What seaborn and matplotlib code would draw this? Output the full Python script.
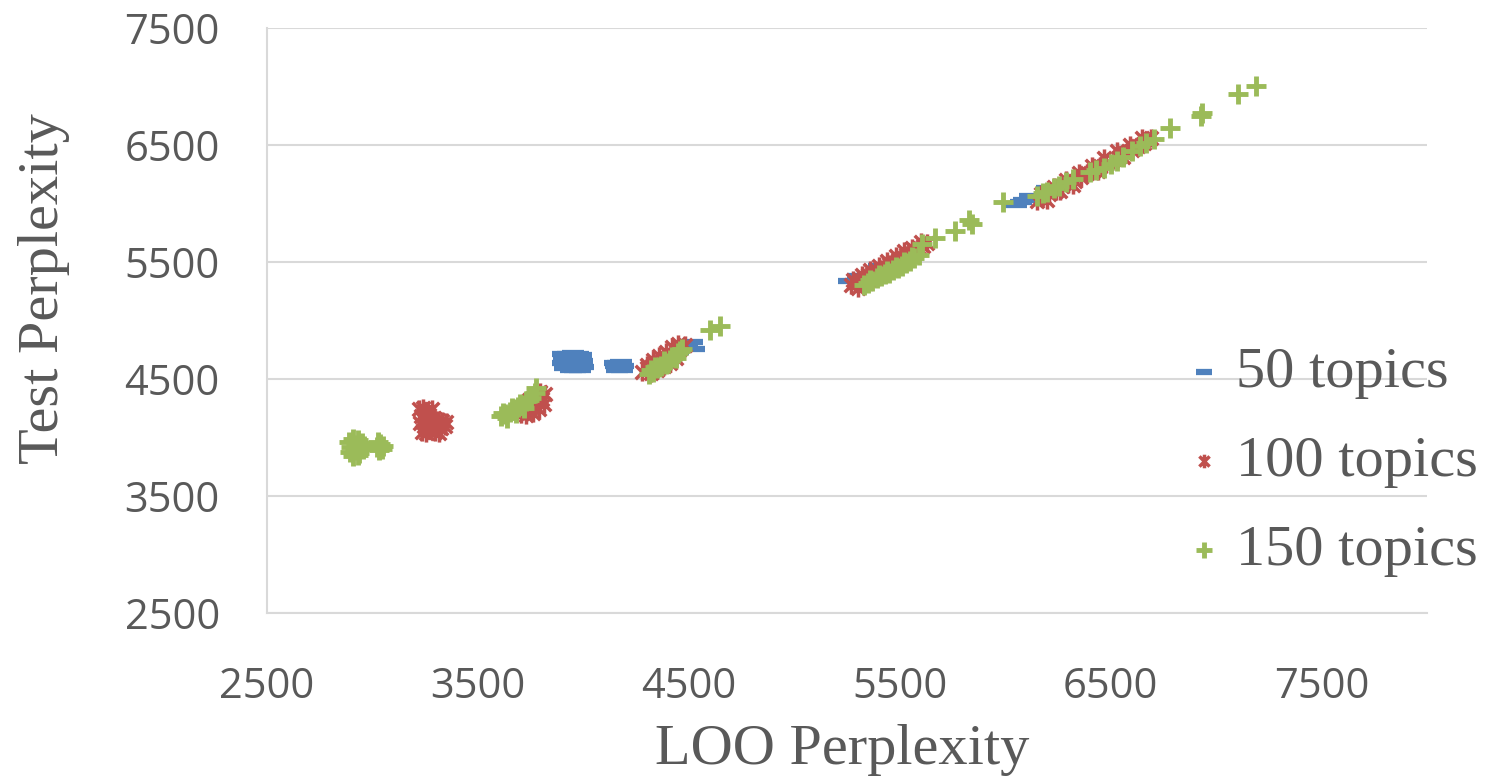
import numpy as np
import matplotlib
matplotlib.use("Agg")
import matplotlib.pyplot as plt
from matplotlib.path import Path
import pandas as pd
import seaborn as sns

# 50 topics
x50 = [3905, 3925, 3950, 3975, 3990, 3910, 3930, 3955, 3980, 3995, 3905, 3930, 3950, 3970, 3990,
       3915, 3940, 3960, 3985, 4000,
       4150, 4165, 4180, 4155, 4175, 4190, 4160, 4185,
       4350, 4400, 4450, 4490, 4515, 4525,
       5260, 5300, 5400,
       6050, 6075, 6090, 6120, 6200]
y50 = [4715, 4712, 4718, 4710, 4705, 4680, 4672, 4668, 4660, 4655, 4640, 4630, 4625, 4620, 4615,
       4590, 4580, 4575, 4580, 4600,
       4640, 4635, 4645, 4610, 4600, 4615, 4580, 4575,
       4620, 4680, 4730, 4770, 4815, 4760,
       5340, 5380, 5470,
       5990, 6010, 6030, 6060, 6130]

# 100 topics
x100 = [3220, 3240, 3260, 3280, 3230, 3250, 3270, 3290, 3310, 3330, 3350, 3225, 3245, 3265, 3285,
        3305, 3325, 3345, 3235, 3255, 3275, 3295, 3315, 3240, 3270, 3300,
        3705, 3725, 3745, 3765, 3785, 3805, 3820, 3740, 3770, 3795, 3815, 3730, 3760, 3790,
        4280, 4300, 4320, 4340, 4360, 4380, 4400, 4420, 4440, 4460, 4480, 4300, 4330, 4360, 4390,
        4420, 4450, 4320, 4350, 4380, 4410, 4440,
        5270, 5290, 5310, 5330, 5350, 5370, 5390, 5410, 5430, 5450, 5470, 5490, 5510, 5530, 5550,
        5570, 5590, 5610, 5630, 5280, 5320, 5360, 5400, 5440, 5480, 5520, 5560, 5600, 5300, 5340,
        5380, 5420,
        6150, 6180, 6210, 6240, 6270, 6300, 6330, 6360, 6390, 6420, 6450, 6480, 6510, 6540, 6570,
        6600, 6630, 6660, 6690, 6170, 6230, 6290, 6350, 6410, 6470, 6530, 6590, 6650, 6200, 6260,
        6320, 6440, 6560]
y100 = [4240, 4250, 4230, 4245, 4180, 4200, 4190, 4170, 4150, 4145, 4130, 4120, 4100, 4110, 4090,
        4100, 4080, 4095, 4050, 4040, 4060, 4045, 4035, 4160, 4140, 4120,
        4200, 4230, 4250, 4270, 4300, 4330, 4370, 4320, 4360, 4390, 4290, 4190, 4210, 4240,
        4560, 4590, 4600, 4630, 4650, 4670, 4690, 4710, 4740, 4760, 4790, 4620, 4660, 4700, 4730,
        4770, 4800, 4550, 4580, 4610, 4640, 4680,
        5300, 5330, 5350, 5360, 5390, 5400, 5420, 5440, 5460, 5480, 5500, 5520, 5540, 5560, 5580,
        5600, 5620, 5640, 5660, 5350, 5390, 5430, 5470, 5510, 5550, 5590, 5620, 5670, 5280, 5320,
        5360, 5400,
        6020, 6060, 6080, 6110, 6150, 6170, 6190, 6230, 6260, 6290, 6320, 6340, 6370, 6400, 6430,
        6460, 6490, 6520, 6560, 6080, 6140, 6200, 6260, 6320, 6390, 6450, 6500, 6560, 6030, 6110,
        6160, 6280, 6400]

# 150 topics
x150 = [2890, 2910, 2930, 2950, 2900, 2920, 2940, 2960, 2895, 2915, 2935, 2955, 2910, 2930,
        3020, 3035, 3050, 3030, 3045, 3025,
        3610, 3630, 3650, 3670, 3690, 3710, 3730, 3750, 3770, 3620, 3660, 3700, 3740, 3775, 3640,
        3680, 3720,
        4310, 4330, 4350, 4370, 4390, 4410, 4430, 4450, 4470, 4340, 4380, 4420, 4460, 4320, 4360,
        4400, 4440, 4600, 4650,
        5330, 5350, 5370, 5390, 5410, 5430, 5450, 5470, 5490, 5510, 5530, 5550, 5570, 5590, 5360,
        5400, 5440, 5480, 5520, 5560, 5605, 5667, 5763, 5844, 5830,
        5990, 6150, 6180, 6200, 6230, 6256, 6290, 6323, 6400, 6430, 6467, 6500, 6529, 6560, 6600,
        6639, 6670, 6706, 6782, 6935, 6930, 7103, 7189]
y150 = [3960, 3990, 3975, 3950, 3920, 3935, 3910, 3925, 3880, 3890, 3870, 3900, 3840, 3850,
        3920, 3945, 3930, 3890, 3905, 3960,
        4180, 4200, 4220, 4240, 4260, 4280, 4310, 4340, 4380, 4210, 4250, 4290, 4320, 4420, 4170,
        4210, 4250,
        4540, 4560, 4590, 4610, 4630, 4660, 4690, 4720, 4760, 4600, 4650, 4690, 4740, 4580, 4600,
        4640, 4680, 4920, 4950,
        5300, 5320, 5340, 5360, 5380, 5400, 5410, 5430, 5450, 5470, 5490, 5510, 5530, 5560, 5350,
        5390, 5420, 5460, 5500, 5540, 5654, 5705, 5765, 5825, 5860,
        6010, 6060, 6090, 6100, 6130, 6150, 6180, 6209, 6270, 6290, 6303, 6340, 6363, 6400, 6450,
        6491, 6520, 6551, 6645, 6774, 6750, 6936, 7004]

labels = ["50 topics", "100 topics", "150 topics"]
colors = ["#4F81BD", "#C0504D", "#9BBB59"]
grey = "#595959"

# excel style star: an x with a vertical bar through it
star = Path([(0, -1), (0, 1), (-0.75, -0.75), (0.75, 0.75), (-0.75, 0.75), (0.75, -0.75)],
            [Path.MOVETO, Path.LINETO, Path.MOVETO, Path.LINETO, Path.MOVETO, Path.LINETO])

sns.set_theme(style="white")
plt.rcParams["font.family"] = ["Open Sans", "DejaVu Sans"]

fig = plt.figure(figsize=(14.89, 7.78), dpi=100)
ax = fig.add_axes([267 / 1489, 1 - 613 / 778, 1160 / 1489, 585 / 778])

df50 = pd.DataFrame({"loo": x50, "test": y50})
df100 = pd.DataFrame({"loo": x100, "test": y100})
df150 = pd.DataFrame({"loo": x150, "test": y150})

sns.scatterplot(data=df50, x="loo", y="test", ax=ax, marker="_", s=230, color=colors[0],
                linewidth=4.5, label=labels[0], zorder=3)
sns.scatterplot(data=df100, x="loo", y="test", ax=ax, marker=star, s=170, color=colors[1],
                edgecolor=colors[1], linewidth=2.5, label=labels[1], zorder=4)
sns.scatterplot(data=df150, x="loo", y="test", ax=ax, marker="+", s=210, color=colors[2],
                linewidth=3.5, label=labels[2], zorder=5)

ax.set_xlim(2500, 8000)
ax.set_ylim(2500, 7500)
ax.set_xticks([2500, 3500, 4500, 5500, 6500, 7500])
ax.set_yticks([2500, 3500, 4500, 5500, 6500, 7500])
ax.yaxis.grid(True, color="#d9d9d9", linewidth=1.5)
ax.xaxis.grid(False)
ax.set_axisbelow(True)
for side in ["top", "right"]:
    ax.spines[side].set_visible(False)
for side in ["left", "bottom"]:
    ax.spines[side].set_color("#d9d9d9")
    ax.spines[side].set_linewidth(1.5)
ax.tick_params(axis="both", length=0, labelsize=30, labelcolor=grey)
ax.tick_params(axis="y", pad=34)
ax.tick_params(axis="x", pad=38)

serif = ["Liberation Serif", "DejaVu Serif"]
ax.set_xlabel("LOO Perplexity", fontsize=42, color=grey, family=serif)
ax.set_ylabel("Test Perplexity", fontsize=42, color=grey, family=serif)
ax.xaxis.set_label_coords(0.496, -0.19)
ax.yaxis.set_label_coords(-0.17, 0.555)

handles, labs = ax.get_legend_handles_labels()
ax.legend_.remove()
leg = fig.legend(handles, labs, loc="center left", bbox_to_anchor=(1186 / 1489, 1 - 462 / 778),
                 frameon=False, markerscale=0.75, handlelength=0.6, handletextpad=0.25,
                 labelspacing=0.62, borderpad=0, borderaxespad=0,
                 prop={"family": serif, "size": 42})
for t in leg.get_texts():
    t.set_color(grey)

fig.savefig("out.png", dpi=100)
